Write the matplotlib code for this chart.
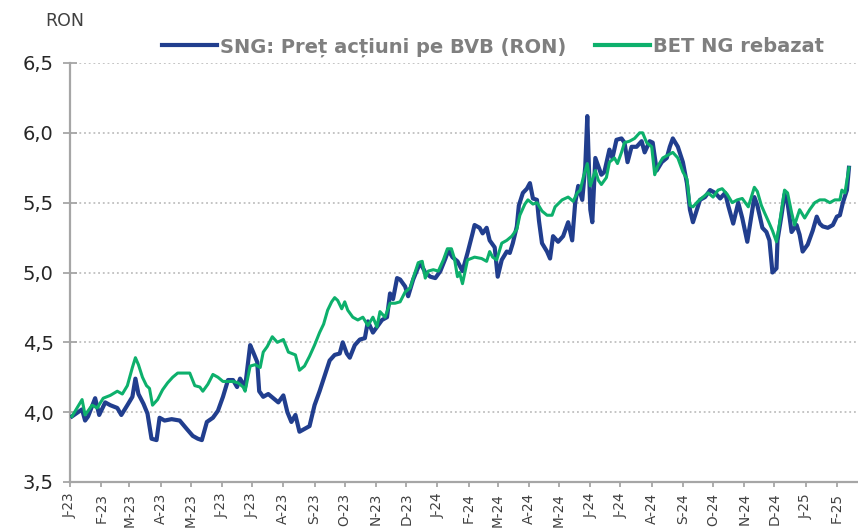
import pandas as pd
import matplotlib
matplotlib.use("Agg")
import matplotlib.pyplot as plt
import matplotlib.dates as mdates
from matplotlib.ticker import FuncFormatter

# SNG: pret actiuni pe BVB (RON)
sng_dates = [
    "2023-01-03", "2023-01-09", "2023-01-13", "2023-01-16", "2023-01-19", "2023-01-26", "2023-01-30",
    "2023-02-05", "2023-02-10", "2023-02-17", "2023-02-21", "2023-02-27", "2023-03-04", "2023-03-07",
    "2023-03-10", "2023-03-15", "2023-03-19", "2023-03-23", "2023-03-28", "2023-03-31", "2023-04-05",
    "2023-04-12", "2023-04-20", "2023-04-27", "2023-05-03", "2023-05-08", "2023-05-12", "2023-05-17",
    "2023-05-23", "2023-05-28", "2023-06-02", "2023-06-07", "2023-06-12", "2023-06-16", "2023-06-19",
    "2023-06-24", "2023-06-29", "2023-07-02", "2023-07-06", "2023-07-08", "2023-07-12", "2023-07-17",
    "2023-07-22", "2023-07-27", "2023-08-01", "2023-08-05", "2023-08-09", "2023-08-13", "2023-08-17",
    "2023-08-22", "2023-08-27", "2023-09-01", "2023-09-06", "2023-09-11", "2023-09-16", "2023-09-21",
    "2023-09-26", "2023-09-29", "2023-10-03", "2023-10-06", "2023-10-11", "2023-10-16", "2023-10-21",
    "2023-10-24", "2023-10-29", "2023-11-02", "2023-11-07", "2023-11-12", "2023-11-15", "2023-11-18",
    "2023-11-22", "2023-11-25", "2023-11-30", "2023-12-03", "2023-12-08", "2023-12-12", "2023-12-15",
    "2023-12-20", "2023-12-25", "2023-12-30", "2024-01-04", "2024-01-09", "2024-01-12", "2024-01-16",
    "2024-01-21", "2024-01-26", "2024-01-31", "2024-02-05", "2024-02-07", "2024-02-12", "2024-02-15",
    "2024-02-19", "2024-02-22", "2024-02-27", "2024-03-01", "2024-03-05", "2024-03-10", "2024-03-13",
    "2024-03-16", "2024-03-20", "2024-03-22", "2024-03-26", "2024-03-30", "2024-04-02", "2024-04-05",
    "2024-04-09", "2024-04-11", "2024-04-14", "2024-04-19", "2024-04-22", "2024-04-25", "2024-04-30",
    "2024-05-05", "2024-05-10", "2024-05-14", "2024-05-17", "2024-05-20", "2024-05-24", "2024-05-27",
    "2024-05-29", "2024-06-01", "2024-06-03", "2024-06-06", "2024-06-09", "2024-06-12", "2024-06-15",
    "2024-06-20", "2024-06-23", "2024-06-27", "2024-07-02", "2024-07-05", "2024-07-08", "2024-07-12",
    "2024-07-17", "2024-07-22", "2024-07-25", "2024-07-30", "2024-08-02", "2024-08-06", "2024-08-11",
    "2024-08-16", "2024-08-19", "2024-08-22", "2024-08-27", "2024-09-01", "2024-09-05", "2024-09-08",
    "2024-09-11", "2024-09-15", "2024-09-18", "2024-09-23", "2024-09-28", "2024-10-03", "2024-10-08",
    "2024-10-13", "2024-10-16", "2024-10-21", "2024-10-26", "2024-10-30", "2024-11-04", "2024-11-08",
    "2024-11-11", "2024-11-14", "2024-11-19", "2024-11-23", "2024-11-26", "2024-11-29", "2024-12-03",
    "2024-12-04", "2024-12-08", "2024-12-11", "2024-12-14", "2024-12-18", "2024-12-23", "2024-12-26",
    "2024-12-29", "2025-01-03", "2025-01-08", "2025-01-12", "2025-01-15", "2025-01-18", "2025-01-23",
    "2025-01-28", "2025-02-01", "2025-02-04", "2025-02-07", "2025-02-11", "2025-02-13",
]
sng_values = [
    3.97, 4.00, 4.02, 3.94, 3.97, 4.10, 3.98,
    4.07, 4.05, 4.03, 3.98, 4.05, 4.11, 4.24,
    4.13, 4.06, 3.99, 3.81, 3.80, 3.96, 3.94,
    3.95, 3.94, 3.88, 3.83, 3.81, 3.80, 3.93,
    3.96, 4.01, 4.11, 4.23, 4.23, 4.18, 4.24,
    4.18, 4.48, 4.43, 4.36, 4.15, 4.11, 4.13,
    4.10, 4.07, 4.12, 4.00, 3.93, 3.98, 3.86,
    3.88, 3.90, 4.05, 4.15, 4.26, 4.37, 4.41,
    4.42, 4.50, 4.42, 4.39, 4.48, 4.52, 4.53,
    4.65, 4.57, 4.61, 4.66, 4.68, 4.85, 4.81,
    4.96, 4.95, 4.90, 4.83, 4.95, 5.02, 5.07,
    5.00, 4.97, 4.96, 5.01, 5.10, 5.16, 5.11,
    5.08, 5.01, 5.14, 5.28, 5.34, 5.32, 5.28,
    5.32, 5.23, 5.18, 4.97, 5.09, 5.15, 5.14,
    5.21, 5.33, 5.48, 5.57, 5.60, 5.64, 5.53,
    5.52, 5.37, 5.21, 5.15, 5.10, 5.26, 5.22,
    5.26, 5.36, 5.23, 5.50, 5.62, 5.52, 5.76,
    6.12, 5.45, 5.36, 5.82, 5.76, 5.70, 5.72,
    5.88, 5.82, 5.95, 5.96, 5.93, 5.79, 5.90,
    5.90, 5.94, 5.86, 5.94, 5.93, 5.73, 5.79,
    5.82, 5.90, 5.96, 5.90, 5.79, 5.64, 5.45,
    5.36, 5.45, 5.52, 5.54, 5.59, 5.57, 5.53,
    5.57, 5.48, 5.35, 5.50, 5.39, 5.22, 5.40,
    5.54, 5.48, 5.32, 5.29, 5.23, 5.00, 5.03,
    5.23, 5.41, 5.56, 5.50, 5.29, 5.34, 5.27,
    5.15, 5.20, 5.30, 5.40, 5.35, 5.33, 5.32,
    5.34, 5.40, 5.41, 5.50, 5.59, 5.75,
]

# BET NG rebazat
bet_dates = [
    "2023-01-03", "2023-01-08", "2023-01-13", "2023-01-16", "2023-01-23", "2023-01-28", "2023-02-03",
    "2023-02-10", "2023-02-17", "2023-02-22", "2023-02-27", "2023-03-04", "2023-03-07", "2023-03-10",
    "2023-03-14", "2023-03-18", "2023-03-21", "2023-03-24", "2023-03-29", "2023-04-03", "2023-04-08",
    "2023-04-13", "2023-04-18", "2023-04-25", "2023-04-30", "2023-05-05", "2023-05-10", "2023-05-13",
    "2023-05-18", "2023-05-23", "2023-05-28", "2023-06-02", "2023-06-07", "2023-06-12", "2023-06-17",
    "2023-06-22", "2023-06-24", "2023-06-29", "2023-07-04", "2023-07-09", "2023-07-12", "2023-07-16",
    "2023-07-21", "2023-07-26", "2023-08-01", "2023-08-06", "2023-08-13", "2023-08-17", "2023-08-22",
    "2023-08-27", "2023-09-01", "2023-09-06", "2023-09-10", "2023-09-14", "2023-09-18", "2023-09-21",
    "2023-09-24", "2023-09-28", "2023-10-01", "2023-10-04", "2023-10-09", "2023-10-14", "2023-10-19",
    "2023-10-24", "2023-10-29", "2023-11-02", "2023-11-05", "2023-11-10", "2023-11-15", "2023-11-20",
    "2023-11-25", "2023-11-30", "2023-12-05", "2023-12-08", "2023-12-13", "2023-12-17", "2023-12-20",
    "2023-12-23", "2023-12-28", "2024-01-02", "2024-01-07", "2024-01-11", "2024-01-15", "2024-01-18",
    "2024-01-21", "2024-01-23", "2024-01-26", "2024-01-31", "2024-02-07", "2024-02-14", "2024-02-19",
    "2024-02-22", "2024-02-25", "2024-02-29", "2024-03-05", "2024-03-10", "2024-03-15", "2024-03-20",
    "2024-03-23", "2024-03-28", "2024-03-31", "2024-04-05", "2024-04-09", "2024-04-14", "2024-04-19",
    "2024-04-24", "2024-04-27", "2024-05-04", "2024-05-10", "2024-05-15", "2024-05-19", "2024-05-22",
    "2024-05-25", "2024-05-29", "2024-06-01", "2024-06-06", "2024-06-09", "2024-06-12", "2024-06-17",
    "2024-06-20", "2024-06-25", "2024-06-28", "2024-07-02", "2024-07-05", "2024-07-10", "2024-07-15",
    "2024-07-20", "2024-07-23", "2024-07-27", "2024-08-01", "2024-08-04", "2024-08-07", "2024-08-12",
    "2024-08-17", "2024-08-22", "2024-08-27", "2024-09-01", "2024-09-05", "2024-09-08", "2024-09-11",
    "2024-09-16", "2024-09-21", "2024-09-26", "2024-10-01", "2024-10-06", "2024-10-10", "2024-10-15",
    "2024-10-20", "2024-10-25", "2024-10-30", "2024-11-02", "2024-11-05", "2024-11-11", "2024-11-14",
    "2024-11-18", "2024-11-21", "2024-11-26", "2024-11-29", "2024-12-03", "2024-12-06", "2024-12-11",
    "2024-12-14", "2024-12-18", "2024-12-21", "2024-12-26", "2024-12-31", "2025-01-05", "2025-01-10",
    "2025-01-15", "2025-01-20", "2025-01-25", "2025-01-30", "2025-02-04", "2025-02-06", "2025-02-09",
    "2025-02-13",
]
bet_values = [
    3.97, 4.03, 4.09, 3.98, 4.05, 4.03, 4.10,
    4.12, 4.15, 4.13, 4.19, 4.32, 4.39, 4.34,
    4.25, 4.19, 4.17, 4.05, 4.09, 4.16, 4.21,
    4.25, 4.28, 4.28, 4.28, 4.19, 4.18, 4.15,
    4.20, 4.27, 4.25, 4.22, 4.22, 4.22, 4.21,
    4.18, 4.15, 4.33, 4.34, 4.32, 4.43, 4.47,
    4.54, 4.50, 4.52, 4.43, 4.41, 4.30, 4.33,
    4.40, 4.48, 4.57, 4.63, 4.73, 4.79, 4.82,
    4.80, 4.74, 4.79, 4.73, 4.68, 4.66, 4.68,
    4.62, 4.68, 4.61, 4.72, 4.68, 4.78, 4.78,
    4.79, 4.86, 4.89, 4.96, 5.07, 5.08, 4.96,
    5.01, 5.02, 5.01, 5.09, 5.17, 5.17, 5.10,
    4.97, 5.00, 4.92, 5.09, 5.11, 5.10, 5.08,
    5.15, 5.11, 5.09, 5.21, 5.23, 5.26, 5.31,
    5.41, 5.49, 5.52, 5.49, 5.50, 5.44, 5.41,
    5.41, 5.47, 5.52, 5.54, 5.51, 5.57, 5.59,
    5.68, 5.78, 5.62, 5.73, 5.66, 5.63, 5.68,
    5.79, 5.82, 5.78, 5.86, 5.93, 5.94, 5.96,
    6.00, 6.00, 5.93, 5.90, 5.70, 5.76, 5.82,
    5.84, 5.86, 5.82, 5.72, 5.67, 5.48, 5.47,
    5.51, 5.54, 5.57, 5.54, 5.59, 5.60, 5.56,
    5.50, 5.52, 5.53, 5.50, 5.47, 5.61, 5.58,
    5.48, 5.43, 5.35, 5.30, 5.22, 5.35, 5.59,
    5.57, 5.43, 5.34, 5.45, 5.39, 5.45, 5.50,
    5.52, 5.52, 5.50, 5.52, 5.52, 5.59, 5.57,
    5.75,
]

y_ticks = [3.5, 4.0, 4.5, 5.0, 5.5, 6.0, 6.5]
month_letters = ["J", "F", "M", "A", "M", "J", "J", "A", "S", "O", "N", "D"]

sng = pd.Series(sng_values, index=pd.to_datetime(sng_dates))
bet = pd.Series(bet_values, index=pd.to_datetime(bet_dates))

blue = "#213E8E"
green = "#0DB06C"
axis_gray = "#A6A6A6"

fig = plt.figure(figsize=(8.58, 5.29), dpi=100)
ax = fig.add_axes([70 / 858, 1 - 482 / 529, 1 - 70 / 858, (482 - 63) / 529])

ax.plot(sng.index, sng.values, color=blue, lw=3.0, solid_joinstyle="round",
        label="SNG: Preț acțiuni pe BVB (RON)", zorder=3)
ax.plot(bet.index, bet.values, color=green, lw=2.2, solid_joinstyle="round",
        label="BET NG rebazat", zorder=4)

ax.set_xlim(pd.Timestamp("2023-01-01"), pd.Timestamp("2025-02-22"))
ax.set_ylim(3.5, 6.5)
ax.set_yticks(y_ticks)
ax.yaxis.set_major_formatter(FuncFormatter(lambda v, p: f"{v:.1f}".replace(".", ",")))

ax.xaxis.set_major_locator(mdates.MonthLocator())
ax.xaxis.set_major_formatter(FuncFormatter(
    lambda v, p: month_letters[mdates.num2date(v).month - 1] + "-" + mdates.num2date(v).strftime("%y")))

for y in y_ticks[1:]:
    ax.axhline(y, color="#BFBFBF", lw=1.3, ls=(0, (1, 1.6)), zorder=1)

for s in ["top", "right"]:
    ax.spines[s].set_visible(False)
for s in ["left", "bottom"]:
    ax.spines[s].set_color(axis_gray)
    ax.spines[s].set_linewidth(1.6)

ax.tick_params(axis="y", direction="inout", length=9.5, width=1.3, color=axis_gray,
               labelsize=14, labelcolor="#262626", pad=7)
ax.tick_params(axis="x", direction="out", length=3.8, width=1.3, color=axis_gray,
               labelsize=9.8, labelcolor="#404040", pad=4, labelrotation=90)
for lab in ax.get_xticklabels():
    lab.set_verticalalignment("top")

fig.text(45 / 858, 1 - 21 / 529, "RON", fontsize=12.5, color="#404040", va="center", ha="left")

leg = fig.legend(loc="center", bbox_to_anchor=(493 / 858, 1 - 47 / 529), ncol=2, frameon=False,
                 handlelength=2.8, handletextpad=0.15, columnspacing=1.5,
                 prop={"size": 14, "weight": "bold"})
for t in leg.get_texts():
    t.set_color("#7F7F7F")
for h in leg.get_lines():
    h.set_linewidth(3.0)

fig.savefig("out.png", dpi=100)
